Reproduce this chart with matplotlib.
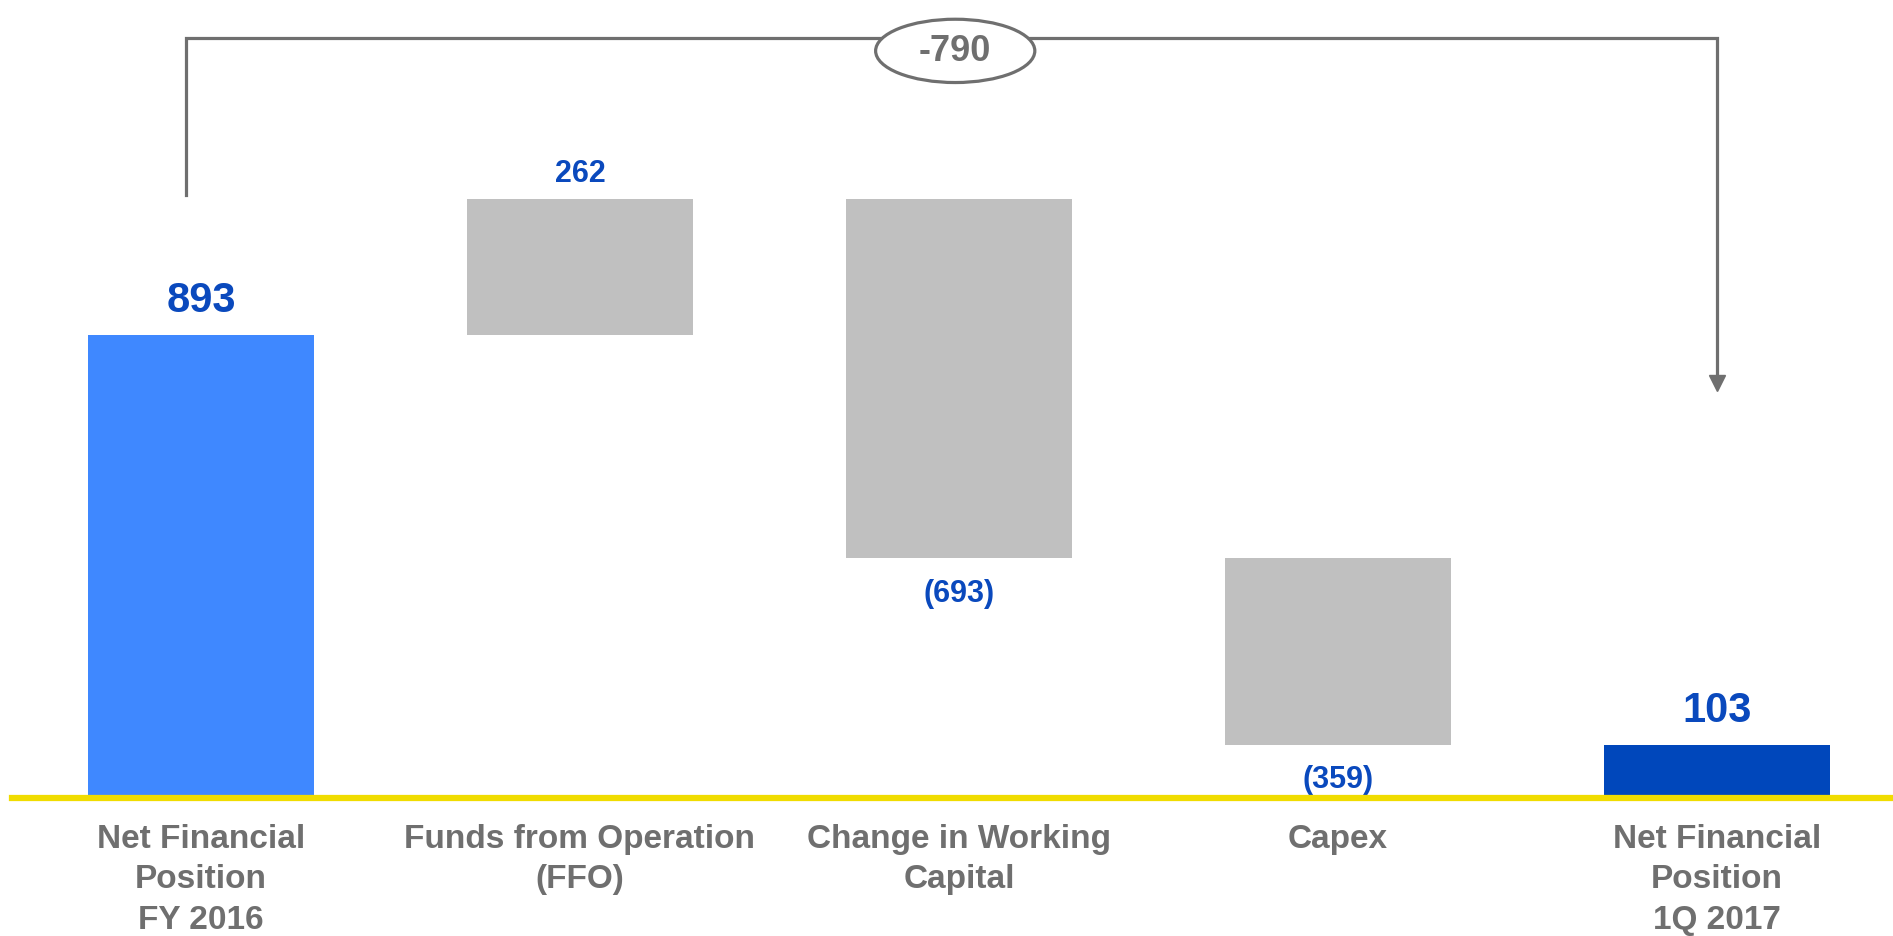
import matplotlib.pyplot as plt
from matplotlib.patches import Ellipse

# waterfall data (EUR m)
categories = ['Net Financial\nPosition\nFY 2016', 'Funds from Operation\n(FFO)',
              'Change in Working\nCapital', 'Capex', 'Net Financial\nPosition\n1Q 2017']
start_value = 893
changes = [262, -693, -359]
end_value = 103
value_labels = ['893', '262', '(693)', '(359)', '103']

blue_light = '#3F88FF'
blue_dark = '#0047BB'
grey_bar = '#C0C0C0'
grey_text = '#6F6F6F'
label_blue = '#0A49BD'
yellow = '#F0DC00'


def main():
    plt.rcParams['font.family'] = ['Liberation Sans', 'DejaVu Sans']
    fig = plt.figure(figsize=(18.93, 9.37), dpi=100)
    ax = fig.add_axes([0, 0, 1, 1])
    ax.set_xlim(-0.530, 4.464)
    ax.set_ylim(-266, 1540)
    ax.axis('off')

    width = 0.595
    # first bar
    ax.bar(0, start_value, width=width, color=blue_light)
    ax.text(0, start_value + 66, value_labels[0], ha='center', va='center',
            fontsize=30, fontweight='bold', color=label_blue)

    level = start_value
    for i, ch in enumerate(changes, start=1):
        bottom = level if ch > 0 else level + ch
        ax.bar(i, abs(ch), bottom=bottom, width=width, color=grey_bar)
        if ch > 0:
            ax.text(i, level + ch + 50, value_labels[i], ha='center', va='center',
                    fontsize=22, fontweight='bold', color=label_blue)
        else:
            ax.text(i, level + ch - 66, value_labels[i], ha='center', va='center',
                    fontsize=22, fontweight='bold', color=label_blue)
        level += ch

    ax.bar(4, end_value, width=width, color=blue_dark)
    ax.text(4, end_value + 66, value_labels[4], ha='center', va='center',
            fontsize=30, fontweight='bold', color=label_blue)

    # yellow baseline
    ax.axhline(0, xmin=12 / 1893, xmax=1, color=yellow, lw=4.5, zorder=3)

    # category labels
    for i, cat in enumerate(categories):
        ax.text(i, -48, cat, ha='center', va='top', fontsize=24, fontweight='bold',
                color=grey_text, linespacing=1.4)

    # bracket showing total change
    top_y = 1465
    left_x = -0.04
    right_x = 4
    ax.plot([left_x, left_x, right_x, right_x], [1162, top_y, top_y, 800],
            color=grey_text, lw=2.3, solid_joinstyle='miter', zorder=4)
    ax.plot(right_x, 800, marker='v', markersize=11, color=grey_text, zorder=4)

    ell = Ellipse((1.99, 1440), 0.42, 122, facecolor='white', edgecolor=grey_text,
                  lw=2.3, zorder=5)
    ax.add_patch(ell)
    ax.text(1.99, 1440, f'{end_value - start_value}', ha='center', va='center',
            fontsize=26, fontweight='bold', color=grey_text, zorder=6)

    fig.savefig('out.png', dpi=100)


if __name__ == "__main__":
    main()
